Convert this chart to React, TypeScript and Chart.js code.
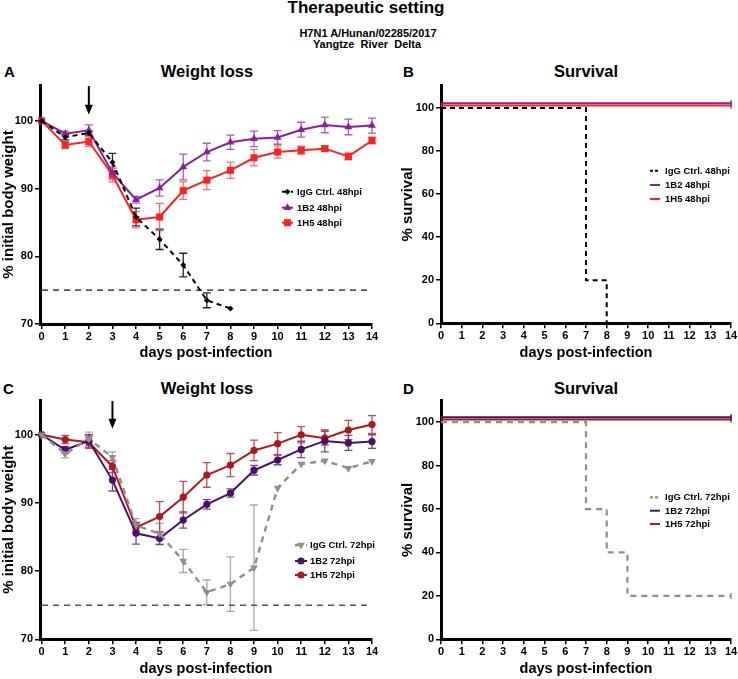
import React, { useEffect, useRef } from "react";
import { Chart, registerables } from "chart.js";

Chart.register(...registerables);

const FONT = "'Liberation Sans', Arial, Helvetica, sans-serif";

// ---------------- data ----------------
const DAY_TICKS = [0, 1, 2, 3, 4, 5, 6, 7, 8, 9, 10, 11, 12, 13, 14];
const WEIGHT_TICKS = [70, 80, 90, 100];
const SURVIVAL_TICKS = [0, 20, 40, 60, 80, 100];

const WEIGHT_DAYS = [0, 1, 2, 3, 4, 5, 6, 7, 8, 9, 10, 11, 12, 13, 14];
const IGG48_DAYS = [0, 1, 2, 3, 4, 5, 6, 7, 8];

// Panel A (48 hpi)
const IGG48_MEAN = [100, 97.6, 98.2, 93.9, 85.8, 82.5, 78.7, 73.5, 72.3];
const IGG48_SEM = [0, 0.4, 0.3, 1.3, 1.3, 1.5, 1.75, 1.1, 0];
const B2_48_MEAN = [100, 98.1, 98.6, 92.3, 88.35, 90.1, 93.2, 95.4, 96.85, 97.35, 97.55, 98.7, 99.4, 99.1, 99.3];
const B2_48_SEM = [0, 0.4, 0.8, 0.9, 0.5, 1.2, 1.9, 1.3, 1.05, 1.15, 1.0, 1.1, 1.15, 1.15, 1.1];
const H5_48_MEAN = [100, 96.45, 96.95, 92.0, 85.4, 85.8, 89.7, 91.25, 92.7, 94.55, 95.4, 95.65, 95.9, 94.75, 97.1];
const H5_48_SEM = [0, 0.5, 0.7, 1.0, 1.2, 2.0, 1.3, 1.4, 1.2, 1.2, 0.9, 0.6, 0.4, 0.5, 0.5];

// Panel C (72 hpi)
const IGG72_MEAN = [100, 97.2, 99.4, 96.7, 86.7, 85.5, 81.5, 76.9, 78.1, 80.5, 92.2, 95.7, 96.2, 95.1, 96.1];
const IGG72_SEM = [0, 0.6, 1.0, 0.8, 1.0, 1.5, 1.7, 1.8, 4.0, 9.2, 0, 0, 0, 0, 0];
const B2_72_MEAN = [100, 97.8, 99.1, 93.35, 85.55, 84.8, 87.5, 89.8, 91.45, 94.8, 96.3, 97.85, 99.1, 98.8, 99.0];
const B2_72_SEM = [0, 0.5, 0.9, 1.6, 1.6, 0.9, 1.2, 0.7, 0.6, 0.7, 0.7, 1.2, 1.6, 1.1, 1.0];
const H5_72_MEAN = [100, 99.3, 98.9, 95.35, 86.4, 88.0, 90.85, 94.1, 95.55, 97.7, 98.7, 100.0, 99.5, 100.7, 101.5];
const H5_72_SEM = [0, 0.6, 0.9, 0.9, 0.5, 2.2, 2.3, 1.8, 1.7, 1.5, 1.6, 1.2, 1.0, 1.4, 1.3];

// Survival (Kaplan-Meier steps, as drawn)
const SURV_IGG48_DAYS = [0, 7, 8];
const SURV_IGG48_PCT = [100, 20, 0];
const SURV_B2_48_DAYS = [0, 14];
const SURV_B2_48_PCT = [102.2, 102.2];
const SURV_H5_48_DAYS = [0, 14];
const SURV_H5_48_PCT = [101.1, 101.1];

const SURV_IGG72_DAYS = [0, 7, 8, 9, 14];
const SURV_IGG72_PCT = [100, 60, 40, 20, 20];
const SURV_B2_72_DAYS = [0, 14];
const SURV_B2_72_PCT = [102.3, 102.3];
const SURV_H5_72_DAYS = [0, 14];
const SURV_H5_72_PCT = [101.2, 101.2];

const THRESHOLD = 75;
const ARROW_A_DAY = 2;
const ARROW_C_DAY = 3;
const ARROW_TIP_VALUE = 100.9;

// ---------------- drawing helpers ----------------
function drawMarker(ctx: CanvasRenderingContext2D, style: string, x: number, y: number, r: number, rotDeg: number) {
  ctx.beginPath();
  if (style === "circle") {
    ctx.arc(x, y, r, 0, Math.PI * 2);
  } else if (style === "rect") {
    const s = r / Math.SQRT2;
    ctx.rect(x - s, y - s, 2 * s, 2 * s);
  } else if (style === "rectRot") {
    ctx.moveTo(x, y - r);
    ctx.lineTo(x + r, y);
    ctx.lineTo(x, y + r);
    ctx.lineTo(x - r, y);
    ctx.closePath();
  } else if (style === "triangle") {
    let rad = (rotDeg * Math.PI) / 180;
    ctx.moveTo(x + Math.sin(rad) * r, y - Math.cos(rad) * r);
    rad += (2 * Math.PI) / 3;
    ctx.lineTo(x + Math.sin(rad) * r, y - Math.cos(rad) * r);
    rad += (2 * Math.PI) / 3;
    ctx.lineTo(x + Math.sin(rad) * r, y - Math.cos(rad) * r);
    ctx.closePath();
  } else {
    return;
  }
  ctx.fill();
}

const errorBarPlugin = {
  id: "errBars",
  beforeDatasetsDraw(chart: any) {
    const { ctx } = chart;
    const xs = chart.scales.x;
    const ys = chart.scales.y;
    ctx.save();
    chart.data.datasets.forEach((ds: any) => {
      if (!ds.errors) return;
      ctx.strokeStyle = ds.errColor;
      ctx.lineWidth = 1.3;
      ctx.setLineDash([]);
      ds.data.forEach((p: any, i: number) => {
        const e = ds.errors[i];
        if (!e) return;
        const px = xs.getPixelForValue(p.x);
        const top = ys.getPixelForValue(p.y + e);
        const bot = ys.getPixelForValue(p.y - e);
        ctx.beginPath();
        ctx.moveTo(px, top);
        ctx.lineTo(px, bot);
        ctx.moveTo(px - 4, top);
        ctx.lineTo(px + 4, top);
        ctx.moveTo(px - 4, bot);
        ctx.lineTo(px + 4, bot);
        ctx.stroke();
      });
    });
    ctx.restore();
  },
};

function makeOverlayPlugin(spec: any) {
  return {
    id: "overlay",
    beforeDatasetsDraw(chart: any) {
      const { ctx, chartArea } = chart;
      const ys = chart.scales.y;
      const xs = chart.scales.x;
      ctx.save();
      if (spec.threshold !== undefined) {
        const y = ys.getPixelForValue(spec.threshold);
        ctx.strokeStyle = "#555";
        ctx.lineWidth = 1.6;
        ctx.setLineDash([6, 5]);
        ctx.beginPath();
        ctx.moveTo(chartArea.left + 2, y);
        ctx.lineTo(chartArea.right, y);
        ctx.stroke();
        ctx.setLineDash([]);
      }
      if (spec.arrowDay !== undefined) {
        const x = xs.getPixelForValue(spec.arrowDay);
        const tip = ys.getPixelForValue(spec.arrowTip);
        const top = chartArea.top + 1;
        ctx.strokeStyle = "#000";
        ctx.fillStyle = "#000";
        ctx.lineWidth = 2;
        ctx.beginPath();
        ctx.moveTo(x, top);
        ctx.lineTo(x, tip - 8);
        ctx.stroke();
        ctx.beginPath();
        ctx.moveTo(x - 4, tip - 10);
        ctx.lineTo(x + 4, tip - 10);
        ctx.lineTo(x, tip);
        ctx.closePath();
        ctx.fill();
      }
      ctx.restore();
    },
    afterDatasetsDraw(chart: any) {
      const { ctx } = chart;
      const lg = spec.legend;
      ctx.save();
      chart.data.datasets.forEach((ds: any, i: number) => {
        const y = lg.rows[i];
        ctx.strokeStyle = ds.borderColor;
        ctx.lineWidth = ds.borderWidth;
        ctx.setLineDash(ds.legendDash || []);
        ctx.beginPath();
        ctx.moveTo(lg.x0, y);
        ctx.lineTo(lg.x1, y);
        ctx.stroke();
        ctx.setLineDash([]);
        if (ds.legendMarker) {
          ctx.fillStyle = ds.borderColor;
          drawMarker(ctx, ds.legendMarker, (lg.x0 + lg.x1) / 2, y, ds.legendRadius, ds.pointRotation || 0);
        }
        ctx.fillStyle = "#000";
        ctx.font = `bold ${lg.fontSize}px ${FONT}`;
        ctx.textBaseline = "middle";
        ctx.textAlign = "left";
        ctx.fillText(ds.label, lg.textX, y + 0.5);
      });
      ctx.restore();
    },
  };
}

// ---------------- dataset builders ----------------
function weightSeries(label: string, days: number[], mean: number[], sem: number[], color: string, errColor: string,
  pointStyle: string, radius: number, opts: any = {}) {
  return {
    label,
    data: days.map((d, i) => ({ x: d, y: mean[i] })),
    errors: sem,
    errColor,
    borderColor: color,
    backgroundColor: color,
    pointBackgroundColor: color,
    pointBorderColor: color,
    pointBorderWidth: 0,
    borderWidth: opts.width || 2,
    borderDash: opts.dash || [],
    legendDash: opts.dash || [],
    pointStyle,
    pointRadius: radius,
    pointRotation: opts.rotation || 0,
    legendMarker: pointStyle,
    legendRadius: radius,
    tension: 0,
    fill: false,
    clip: false,
  };
}

function survivalSeries(label: string, days: number[], pct: number[], color: string, opts: any = {}) {
  const last = days.length - 1;
  return {
    label,
    data: days.map((d, i) => ({ x: d, y: pct[i] })),
    stepped: "before",
    borderColor: color,
    backgroundColor: color,
    borderWidth: opts.width || 2,
    borderDash: opts.dash || [],
    legendDash: opts.dash ? [3, 2] : [],
    pointStyle: "line",
    pointRotation: 90,
    pointBorderColor: color,
    pointBorderWidth: 1.5,
    pointRadius: (c: any) => (c.dataIndex === last && pct[last] > 0 && days[last] === 14 ? 3 : 0),
    tension: 0,
    fill: false,
    clip: false,
  };
}

function buildOptions(spec: any) {
  const tickFont = { family: FONT, size: 11, weight: "bold" as const };
  const titleFont = { family: FONT, size: 15, weight: "bold" as const };
  const gridCfg = { drawOnChartArea: false, drawTicks: true, tickLength: 5, color: "#000", lineWidth: 1.5 };
  return {
    responsive: false,
    maintainAspectRatio: false,
    animation: false,
    events: [],
    layout: { padding: spec.padding },
    plugins: { legend: { display: false }, tooltip: { enabled: false }, title: { display: false } },
    scales: {
      x: {
        type: "linear",
        min: spec.xMin,
        max: 14,
        afterBuildTicks: (s: any) => {
          s.ticks = DAY_TICKS.map((v) => ({ value: v }));
        },
        afterFit: (s: any) => {
          s.height = spec.xHeight;
          s.paddingLeft = 0;
          s.paddingRight = 0;
        },
        border: { color: "#000", width: 3 },
        grid: gridCfg,
        ticks: { font: tickFont, color: "#000", padding: 1, maxRotation: 0, autoSkip: false },
        title: {
          display: true,
          text: "days post-infection",
          color: "#000",
          font: { family: FONT, size: 14.5, weight: "bold" as const },
          padding: { top: 0, bottom: spec.xTitlePad },
        },
      },
      y: {
        type: "linear",
        min: spec.yMin,
        max: spec.yMax,
        afterBuildTicks: (s: any) => {
          s.ticks = spec.yTicks.map((v: number) => ({ value: v }));
        },
        afterFit: (s: any) => {
          s.width = spec.yWidth;
          s.paddingTop = 0;
          s.paddingBottom = 0;
        },
        border: { color: "#000", width: 3 },
        grid: gridCfg,
        ticks: { font: tickFont, color: "#000", padding: 2 },
        title: {
          display: true,
          text: spec.yTitle,
          color: "#000",
          font: titleFont,
          padding: { top: spec.yTitlePad, bottom: 0 },
        },
      },
    },
  };
}

// ---------------- panels ----------------
const PANEL_A = {
  box: { left: 0, top: 80, width: 385, height: 285 },
  padding: { left: 0, top: 3, right: 13, bottom: 0 },
  xMin: -0.07, yMin: 70, yMax: 105.3, yTicks: WEIGHT_TICKS,
  yWidth: 40, xHeight: 41, xTitlePad: 3, yTitlePad: 0,
  yTitle: "% initial body weight",
  threshold: THRESHOLD, arrowDay: ARROW_A_DAY, arrowTip: ARROW_TIP_VALUE,
  legend: { x0: 282, x1: 293, textX: 297, rows: [111.7, 127.7, 142.7], fontSize: 9.5 },
  datasets: () => [
    weightSeries("IgG Ctrl. 48hpi", IGG48_DAYS, IGG48_MEAN, IGG48_SEM, "#000000", "#222222", "rectRot", 3, { dash: [5, 4] }),
    weightSeries("1B2 48hpi", WEIGHT_DAYS, B2_48_MEAN, B2_48_SEM, "#8A1F9A", "rgba(150,50,165,0.8)", "triangle", 4.5),
    weightSeries("1H5 48hpi", WEIGHT_DAYS, H5_48_MEAN, H5_48_SEM, "#FF2020", "rgba(255,70,70,0.8)", "rect", 5),
  ],
};

const PANEL_B = {
  box: { left: 385, top: 80, width: 353, height: 285 },
  padding: { left: 0, top: 3, right: 7, bottom: 0 },
  xMin: 0, yMin: 0, yMax: 110.4, yTicks: SURVIVAL_TICKS,
  yWidth: 56, xHeight: 41.7, xTitlePad: 3, yTitlePad: 14,
  yTitle: "% survival",
  legend: { x0: 265, x1: 275, textX: 280, rows: [90.7, 105, 119], fontSize: 9.5 },
  datasets: () => [
    survivalSeries("IgG Ctrl. 48hpi", SURV_IGG48_DAYS, SURV_IGG48_PCT, "#000000", { dash: [5, 4] }),
    survivalSeries("1B2 48hpi", SURV_B2_48_DAYS, SURV_B2_48_PCT, "#8A1F9A"),
    survivalSeries("1H5 48hpi", SURV_H5_48_DAYS, SURV_H5_48_PCT, "#FF2020"),
  ],
};

const PANEL_C = {
  box: { left: 0, top: 395, width: 385, height: 284 },
  padding: { left: 0, top: 5, right: 13, bottom: 0 },
  xMin: -0.07, yMin: 70, yMax: 105.1, yTicks: WEIGHT_TICKS,
  yWidth: 40, xHeight: 39.7, xTitlePad: 1.3, yTitlePad: 0,
  yTitle: "% initial body weight",
  threshold: THRESHOLD, arrowDay: ARROW_C_DAY, arrowTip: ARROW_TIP_VALUE,
  legend: { x0: 295, x1: 307, textX: 310, rows: [150, 166, 180], fontSize: 9.5 },
  datasets: () => [
    weightSeries("IgG Ctrl. 72hpi", WEIGHT_DAYS, IGG72_MEAN, IGG72_SEM, "#8E8E8E", "rgba(160,160,160,0.9)", "triangle", 4.5, { dash: [6, 5], width: 2.4, rotation: 180 }),
    weightSeries("1B2 72hpi", WEIGHT_DAYS, B2_72_MEAN, B2_72_SEM, "#4A0E6B", "rgba(90,40,125,0.85)", "circle", 3.6),
    weightSeries("1H5 72hpi", WEIGHT_DAYS, H5_72_MEAN, H5_72_SEM, "#B0161B", "rgba(195,45,50,0.85)", "circle", 3.6),
  ],
};

const PANEL_D = {
  box: { left: 385, top: 395, width: 353, height: 284 },
  padding: { left: 0, top: 4.3, right: 7, bottom: 0 },
  xMin: 0, yMin: 0, yMax: 110, yTicks: SURVIVAL_TICKS,
  yWidth: 56, xHeight: 39.7, xTitlePad: 1.3, yTitlePad: 14,
  yTitle: "% survival",
  legend: { x0: 265, x1: 275, textX: 280, rows: [102.3, 115.7, 129], fontSize: 9.5 },
  datasets: () => [
    survivalSeries("IgG Ctrl. 72hpi", SURV_IGG72_DAYS, SURV_IGG72_PCT, "#8E8E8E", { dash: [6, 5], width: 2.2 }),
    survivalSeries("1B2 72hpi", SURV_B2_72_DAYS, SURV_B2_72_PCT, "#4A0E6B"),
    survivalSeries("1H5 72hpi", SURV_H5_72_DAYS, SURV_H5_72_PCT, "#B0161B"),
  ],
};

function Panel({ spec }: { spec: any }) {
  const ref = useRef<HTMLCanvasElement | null>(null);
  useEffect(() => {
    if (!ref.current) return;
    const chart = new Chart(ref.current, {
      type: "line",
      data: { datasets: spec.datasets() },
      options: buildOptions(spec) as any,
      plugins: [errorBarPlugin as any, makeOverlayPlugin(spec) as any],
    });
    return () => chart.destroy();
  }, [spec]);
  const b = spec.box;
  return (
    <canvas
      ref={ref}
      width={b.width}
      height={b.height}
      style={{ position: "absolute", left: b.left, top: b.top, width: b.width, height: b.height }}
    />
  );
}

function Label({ text, left, top, size, width, align }: any) {
  return (
    <div
      style={{
        position: "absolute",
        left,
        top,
        width,
        textAlign: align || "left",
        fontFamily: FONT,
        fontWeight: "bold",
        fontSize: size,
        lineHeight: `${Math.round(size * 1.18)}px`,
        whiteSpace: "pre",
        color: "#000",
      }}
    >
      {text}
    </div>
  );
}

export default function App() {
  return (
    <div style={{ position: "absolute", left: 0, top: 0, width: 738, height: 679, background: "#fff", overflow: "hidden" }}>
      <Label text="Therapeutic setting" left={0} top={-2} size={17} width={732} align="center" />
      <Label text="H7N1 A/Hunan/02285/2017" left={0} top={26.5} size={11} width={736} align="center" />
      <Label text="Yangtze  River  Delta" left={0} top={37.5} size={11} width={734} align="center" />

      <Label text="A" left={4} top={62.8} size={15} />
      <Label text="Weight loss" left={107} top={62.3} size={16.5} width={200} align="center" />
      <Label text="B" left={403} top={62.8} size={15} />
      <Label text="Survival" left={486} top={62.3} size={16.5} width={200} align="center" />

      <Label text="C" left={3} top={379.8} size={15} />
      <Label text="Weight loss" left={107} top={379.3} size={16.5} width={200} align="center" />
      <Label text="D" left={403} top={379.8} size={15} />
      <Label text="Survival" left={486} top={379.3} size={16.5} width={200} align="center" />

      <Panel spec={PANEL_A} />
      <Panel spec={PANEL_B} />
      <Panel spec={PANEL_C} />
      <Panel spec={PANEL_D} />
    </div>
  );
}
